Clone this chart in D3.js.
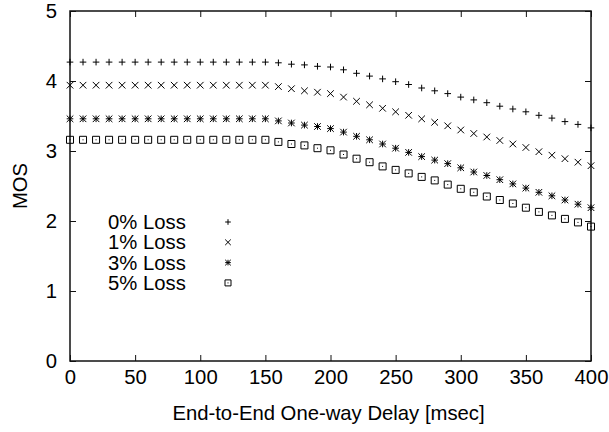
<!DOCTYPE html>
<html><head><meta charset="utf-8">
<script src="https://cdn.jsdelivr.net/npm/d3@7"></script>
<style>body{margin:0;background:#fff}svg{display:block}text{font-family:"Liberation Sans",Arial,sans-serif;fill:#000}</style>
</head><body><svg id="c" width="609" height="432"></svg>
<script>
const delays = [0,10,20,30,40,50,60,70,80,90,100,110,120,130,140,150,160,170,180,190,200,210,220,230,240,250,260,270,280,290,300,310,320,330,340,350,360,370,380,390,400];
const loss0 = [4.27,4.27,4.27,4.27,4.27,4.27,4.27,4.27,4.27,4.27,4.27,4.27,4.27,4.27,4.27,4.27,
  4.26,4.24,4.23,4.21,4.20,4.16,4.11,4.07,4.03,3.99,3.95,3.90,3.86,3.82,3.77,3.73,3.69,3.64,3.60,3.56,3.51,3.47,3.42,3.38,3.33];
const loss1 = [3.94,3.94,3.94,3.94,3.94,3.94,3.94,3.94,3.94,3.94,3.94,3.94,3.94,3.94,3.94,3.94,
  3.92,3.89,3.86,3.84,3.82,3.77,3.71,3.66,3.61,3.56,3.51,3.46,3.41,3.36,3.30,3.25,3.20,3.15,3.10,3.05,2.99,2.94,2.89,2.84,2.79];
const loss3 = [3.46,3.46,3.46,3.46,3.46,3.46,3.46,3.46,3.46,3.46,3.46,3.46,3.46,3.46,3.46,3.46,
  3.43,3.40,3.37,3.35,3.32,3.27,3.21,3.16,3.10,3.04,2.98,2.92,2.87,2.82,2.76,2.70,2.65,2.59,2.53,2.47,2.41,2.36,2.30,2.24,2.19];
const loss5 = [3.16,3.16,3.16,3.16,3.16,3.16,3.16,3.16,3.16,3.16,3.16,3.16,3.16,3.16,3.16,3.16,
  3.13,3.10,3.08,3.04,3.01,2.95,2.89,2.84,2.78,2.73,2.68,2.63,2.58,2.52,2.46,2.41,2.35,2.30,2.25,2.19,2.13,2.08,2.03,1.98,1.92];
const seriesNames = ["0% Loss","1% Loss","3% Loss","5% Loss"];
const seriesMarkers = ["plus","cross","star","box"];
const xTicks = [0,50,100,150,200,250,300,350,400];
const yTicks = [0,1,2,3,4,5];
const xTitle = "End-to-End One-way Delay [msec]";
const yTitle = "MOS";

const series = [loss0,loss1,loss3,loss5].map((v,i)=>({name:seriesNames[i],marker:seriesMarkers[i],values:v}));

const svg = d3.select("#c");
const L=70,R=591,T=11,B=361;
const x = d3.scaleLinear().domain([0,400]).range([L,R]);
const y = d3.scaleLinear().domain([0,5]).range([B,T]);
const fs = 20.3, tk = 6;

function markerPath(type,s){
  const p = d3.path();
  if(type==="plus"||type==="star"){p.moveTo(-s,0);p.lineTo(s,0);p.moveTo(0,-s);p.lineTo(0,s);}
  if(type==="cross"||type==="star"){p.moveTo(-s,-s);p.lineTo(s,s);p.moveTo(-s,s);p.lineTo(s,-s);}
  if(type==="box"){p.rect(-s,-s,2*s,2*s);}
  return p.toString();
}

// frame
svg.append("rect").attr("x",L).attr("y",T).attr("width",R-L).attr("height",B-T)
  .attr("fill","none").attr("stroke","#111").attr("stroke-width",1.5);

// ticks
const axB = d3.axisBottom(x).tickValues(xTicks).tickSize(-tk).tickPadding(10).tickFormat(d3.format("d"));
const gB = svg.append("g").attr("transform",`translate(0,${B})`).call(axB);
const axT = d3.axisTop(x).tickValues(xTicks).tickSize(-tk).tickFormat("");
const gT = svg.append("g").attr("transform",`translate(0,${T})`).call(axT);
const axL = d3.axisLeft(y).tickValues(yTicks).tickSize(-tk).tickPadding(13).tickFormat(d3.format("d"));
const gL = svg.append("g").attr("transform",`translate(${L},0)`).call(axL);
const axR = d3.axisRight(y).tickValues(yTicks).tickSize(-tk).tickFormat("");
const gR = svg.append("g").attr("transform",`translate(${R},0)`).call(axR);
[gB,gT,gL,gR].forEach(g=>{
  g.select(".domain").remove();
  g.selectAll(".tick line").attr("stroke","#111").attr("stroke-width",1);
  g.selectAll(".tick text").attr("font-size",fs).attr("font-family","'Liberation Sans',Arial,sans-serif").attr("fill","#000");
});
gB.selectAll(".tick text").attr("dy","0.71em").attr("y",9);

// titles
svg.append("text").attr("x",(L+R)/2-2).attr("y",420).attr("text-anchor","middle").attr("font-size",fs).text(xTitle);
svg.append("text").attr("transform",`translate(27,${(T+B)/2}) rotate(-90)`).attr("text-anchor","middle").attr("font-size",fs).text(yTitle);

// points
series.forEach(s=>{
  svg.append("g").selectAll("path").data(s.values).join("path")
    .attr("transform",(d,i)=>`translate(${x(delays[i])},${y(d)})`)
    .attr("d",markerPath(s.marker, s.marker==="box"?3.5:3.3))
    .attr("fill","none").attr("stroke","#000").attr("stroke-width",1);
  if(s.marker==="box"){
    svg.append("g").selectAll("rect").data(s.values).join("rect")
      .attr("x",(d,i)=>x(delays[i])-0.5).attr("y",d=>y(d)-0.5).attr("width",1).attr("height",1).attr("fill","#000");
  }
});

// legend
const legY0 = 222, legDy = 20.3;
series.forEach((s,i)=>{
  const yy = legY0 + i*legDy;
  svg.append("text").attr("x",108).attr("y",yy).attr("dy","0.35em").attr("font-size",fs).text(s.name);
  svg.append("path").attr("transform",`translate(228,${yy})`).attr("d",markerPath(s.marker, s.marker==="box"?3:2.8))
    .attr("fill","none").attr("stroke","#000").attr("stroke-width",1);
  if(s.marker==="box") svg.append("rect").attr("x",227.5).attr("y",yy-0.5).attr("width",1).attr("height",1).attr("fill","#000");
});
</script></body></html>
